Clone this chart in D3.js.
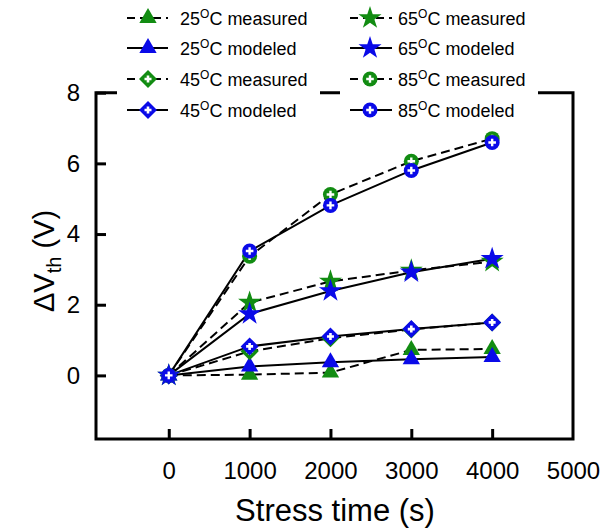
<!DOCTYPE html>
<html>
<head>
<meta charset="utf-8">
<script src="https://cdn.jsdelivr.net/npm/d3@7"></script>
<style>
  body { margin: 0; background: #fff; }
  svg { display: block; }
  text { font-family: "Liberation Sans", Arial, sans-serif; fill: #000; }
</style>
</head>
<body>
<svg id="chart" width="608" height="531"></svg>
<script>
// Stress times (s) and threshold-voltage shift (V) at each temperature
const stressTimes = [0, 1000, 2000, 3000, 4000];
const xTicks = [0, 1000, 2000, 3000, 4000, 5000];
const yTicks = [0, 2, 4, 6, 8];

const measured25 = [0, 0.02, 0.08, 0.72, 0.75];
const modeled25  = [0, 0.25, 0.37, 0.46, 0.52];
const measured45 = [0, 0.68, 1.05, 1.30, 1.50];
const modeled45  = [0, 0.82, 1.10, 1.31, 1.50];
const measured65 = [0, 2.06, 2.66, 2.97, 3.22];
const modeled65  = [0, 1.74, 2.39, 2.92, 3.30];
const measured85 = [0, 3.37, 5.12, 6.06, 6.70];
const modeled85  = [0, 3.52, 4.81, 5.80, 6.59];

const GREEN = "#128c12";
const BLUE = "#0a0ae8";

const series = [
  { temp: "25", kind: "measured", values: measured25, shape: "triangle", color: GREEN },
  { temp: "25", kind: "modeled",  values: modeled25,  shape: "triangle", color: BLUE },
  { temp: "45", kind: "measured", values: measured45, shape: "diamond",  color: GREEN },
  { temp: "45", kind: "modeled",  values: modeled45,  shape: "diamond",  color: BLUE },
  { temp: "65", kind: "measured", values: measured65, shape: "star",     color: GREEN },
  { temp: "65", kind: "modeled",  values: modeled65,  shape: "star",     color: BLUE },
  { temp: "85", kind: "measured", values: measured85, shape: "circle",   color: GREEN },
  { temp: "85", kind: "modeled",  values: modeled85,  shape: "circle",   color: BLUE }
];

(function draw() {
const svg = d3.select("#chart");
const plotLeft = 96, plotRight = 573, plotTop = 92.7, plotBottom = 439;

const x = d3.scaleLinear().domain([-900, 5000]).range([plotLeft, plotRight]);
const y = d3.scaleLinear().domain([-1.8, 8]).range([plotBottom, plotTop]);

// Axes with inward ticks
const xAxis = svg.append("g")
  .attr("transform", `translate(0,${plotBottom})`)
  .call(d3.axisBottom(x).tickValues(xTicks).tickFormat(d3.format("d"))
    .tickSizeInner(-10).tickSizeOuter(0).tickPadding(23));
const yAxis = svg.append("g")
  .attr("transform", `translate(${plotLeft},0)`)
  .call(d3.axisLeft(y).tickValues(yTicks).tickFormat(d3.format("d"))
    .tickSizeInner(-10).tickSizeOuter(0).tickPadding(16));

[xAxis, yAxis].forEach(g => {
  g.select(".domain").remove();
  g.selectAll(".tick line").attr("stroke", "#000").attr("stroke-width", 3);
  g.selectAll(".tick text").attr("font-size", 24).attr("fill", "#000")
    .style("font-family", '"Liberation Sans", Arial, sans-serif');
});
// the 5000 tick sits on the right frame edge
xAxis.selectAll(".tick").filter(d => d === 5000).select("line").remove();

// Frame
svg.append("path")
  .attr("d", `M${plotLeft},${plotTop}H${plotRight}V${plotBottom}H${plotLeft}Z`)
  .attr("fill", "none").attr("stroke", "#000").attr("stroke-width", 3)
  .attr("stroke-linejoin", "miter");

// Marker drawing
function drawMarker(g, shape, color) {
  if (shape === "triangle") {
    g.append("path").attr("d", d3.symbol(d3.symbolTriangle, 130)()).attr("fill", color);
  } else if (shape === "star") {
    g.append("path").attr("d", d3.symbol(d3.symbolStar, 165)()).attr("fill", color);
  } else if (shape === "diamond") {
    const r = 9;
    g.append("path").attr("d", `M0,${-r}L${r},0L0,${r}L${-r},0Z`).attr("fill", color);
    g.append("path").attr("d", "M-3.5,0H3.5M0,-3.5V3.5").attr("stroke", "#fff").attr("stroke-width", 2.6);
  } else if (shape === "circle") {
    g.append("circle").attr("r", 7.5).attr("fill", color);
    g.append("path").attr("d", "M-3.8,0H3.8M0,-3.8V3.8").attr("stroke", "#fff").attr("stroke-width", 2.4);
  }
}

const line = d3.line().x((d, i) => x(stressTimes[i])).y(d => y(d));

// Connecting lines
svg.append("g").selectAll("path").data(series).join("path")
  .attr("d", d => line(d.values))
  .attr("fill", "none")
  .attr("stroke", "#000")
  .attr("stroke-width", 2)
  .attr("stroke-dasharray", d => d.kind === "measured" ? "9,5" : null);

// Markers
series.forEach(s => {
  s.values.forEach((v, i) => {
    const g = svg.append("g").attr("transform", `translate(${x(stressTimes[i])},${y(v)})`);
    drawMarker(g, s.shape, s.color);
  });
});

// Legend (two columns with white backing)
const legendCols = [
  { items: series.slice(0, 4), x0: 117, x1: 320, lineX: [127, 168], markX: 148, textX: 180 },
  { items: series.slice(4, 8), x0: 340, x1: 538, lineX: [350, 392], markX: 370, textX: 398 }
];
const rowY = [18, 48, 79, 110];

legendCols.forEach(col => {
  const g = svg.append("g");
  g.append("rect").attr("x", col.x0).attr("y", 0)
    .attr("width", col.x1 - col.x0).attr("height", 126).attr("fill", "#fff");
  col.items.forEach((s, i) => {
    const yy = rowY[i];
    g.append("line")
      .attr("x1", col.lineX[0]).attr("x2", col.lineX[1]).attr("y1", yy).attr("y2", yy)
      .attr("stroke", "#000").attr("stroke-width", 2)
      .attr("stroke-dasharray", s.kind === "measured" ? "8,5" : null);
    drawMarker(g.append("g").attr("transform", `translate(${col.markX},${yy})`), s.shape, s.color);
    const t = g.append("text").attr("x", col.textX).attr("y", yy + 6.5).attr("font-size", 18);
    t.append("tspan").text(s.temp);
    t.append("tspan").attr("font-size", 12).attr("dy", -7).text("O");
    t.append("tspan").attr("dy", 7).text("C " + s.kind);
  });
});

// Axis titles
svg.append("text")
  .attr("x", 335).attr("y", 521)
  .attr("text-anchor", "middle").attr("font-size", 31)
  .text("Stress time (s)");

const yt = svg.append("text")
  .attr("transform", "translate(54,261) rotate(-90)")
  .attr("text-anchor", "middle").attr("font-size", 29);
yt.append("tspan").text("ΔV");
yt.append("tspan").attr("font-size", 20).attr("dy", 7).text("th");
yt.append("tspan").attr("dy", -7).text(" (V)");
})();
</script>
</body>
</html>
